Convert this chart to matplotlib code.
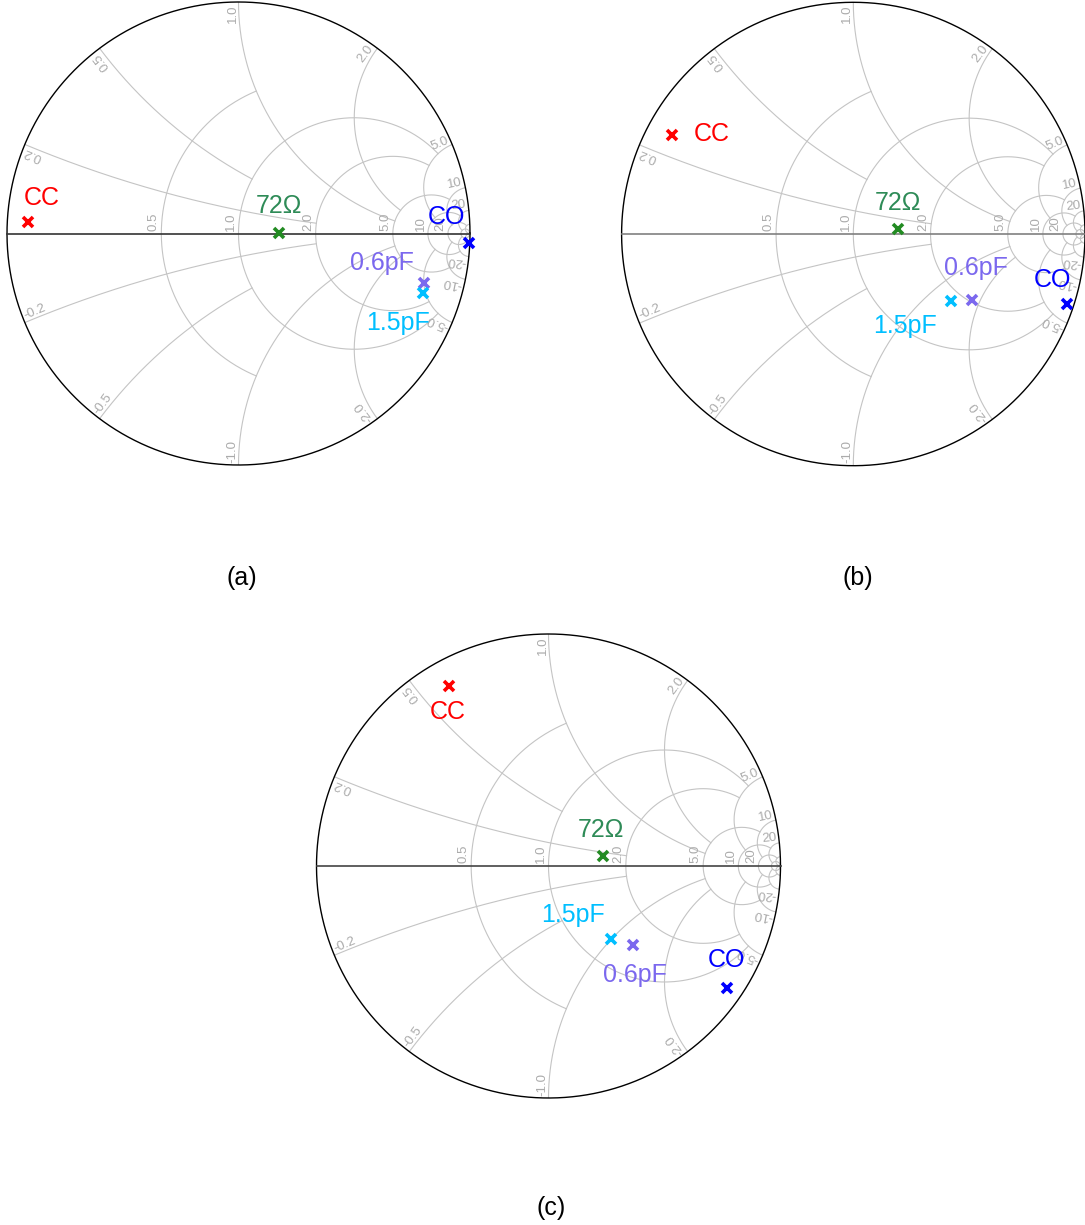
import numpy as np
import matplotlib

matplotlib.use("Agg")
import matplotlib.pyplot as plt

plt.rcParams["font.family"] = ["Liberation Sans", "DejaVu Sans"]

point_names = ["CC", "72Ω", "0.6pF", "1.5pF", "CO"]
marker_colors = ["#ff0000", "#228b22", "#7b68ee", "#00bfff", "#0000ff"]
text_colors = ["#ff0000", "#2e8b57", "#7b68ee", "#00bfff", "#0000ff"]

# reflection coefficient of each point
gamma_a_re = [-0.908, 0.176, 0.803, 0.796, 0.996]
gamma_a_im = [0.051, 0.001, -0.215, -0.258, -0.040]
gamma_b_re = [-0.781, 0.192, 0.512, 0.420, 0.924]
gamma_b_im = [0.427, 0.020, -0.285, -0.289, -0.302]
gamma_c_re = [-0.430, 0.236, 0.363, 0.268, 0.768]
gamma_c_im = [0.777, 0.044, -0.342, -0.316, -0.524]

# smith grid: each circle stops where it meets the given opposite value
res_ticks = [0.5, 1.0, 2.0, 5.0, 10.0, 20.0, 50.0]
res_stop = [1.0, 5.0, 5.0, 10.0, 20.0, 50.0, np.inf]
react_ticks = [0.2, 0.5, 1.0, 2.0, 5.0, 10.0, 20.0, 50.0]
react_stop = [2.0, 1.0, 5.0, 5.0, 10.0, 20.0, 50.0, np.inf]
res_labels = [0.5, 1.0, 2.0, 5.0, 10.0, 20.0]
react_labels = [0.2, 0.5, 1.0, 2.0, 5.0, 10.0, 20.0]

# label offsets (points) relative to each marker
offsets_a = [(9.6, 16.8), (0, 19.9), (-30.7, 14.4), (-17.6, -21.6), (-16.6, 18.7)]
offsets_b = [(28.3, 0.7), (0.5, 19.2), (2.6, 22.8), (-32.9, -18.0), (-10.8, 17.3)]
offsets_c = [(-0.7, -19.2), (-1.7, 18.5), (1.7, -21.4), (-26.9, 17.5), (0, 19.9)]

W, H = 1085, 1225
GRID = "#c4c4c4"
LABEL = "#ababab"
LABEL_SIZE = 9.5


def gamma(z):
    return (z - 1) / (z + 1)


def fmt(v):
    return f"{v:.1f}" if v < 10 else f"{v:.0f}"


def draw_smith(ax, axis_color):
    t = np.linspace(0, 2 * np.pi, 600)
    ax.plot(np.cos(t), np.sin(t), color="black", lw=1.0, clip_on=False, zorder=3)
    ax.plot([-1, 1], [0, 0], color=axis_color, lw=1.2, clip_on=False, zorder=3)

    for r, stop in zip(res_ticks, res_stop):
        a = np.arctan(stop) if np.isfinite(stop) else np.pi / 2 - 1e-4
        x = np.tan(np.linspace(-a, a, 400))
        g = gamma(r + 1j * x)
        ax.plot(g.real, g.imag, color=GRID, lw=0.8, zorder=1)

    for xv, stop in zip(react_ticks, react_stop):
        a = np.arctan(stop) if np.isfinite(stop) else np.pi / 2 - 1e-4
        r = np.tan(np.linspace(0, a, 400))
        for s in (1, -1):
            g = gamma(r + 1j * s * xv)
            ax.plot(g.real, g.imag, color=GRID, lw=0.8, zorder=1)

    for r in res_labels:
        g = gamma(r)
        ax.text(g - 0.006, 0.012, fmt(r), rotation=90, rotation_mode="anchor",
                ha="left", va="bottom", fontsize=LABEL_SIZE, color=LABEL)

    for xv in react_labels:
        for s in (1, -1):
            g = gamma(1j * s * xv) * 0.99
            ang = np.degrees(np.angle(g))
            if s > 0:
                ax.text(g.real, g.imag, fmt(xv), rotation=ang, rotation_mode="anchor",
                        ha="right", va="bottom", fontsize=LABEL_SIZE, color=LABEL)
            else:
                ax.text(g.real, g.imag, "-" + fmt(xv), rotation=ang + 180,
                        rotation_mode="anchor", ha="left", va="bottom",
                        fontsize=LABEL_SIZE, color=LABEL)


def add_chart(cx, cy, R, re, im, offsets, axis_color):
    ax = fig.add_axes([(cx - R) / W, (H - cy - R) / H, 2 * R / W, 2 * R / H])
    ax.set_xlim(-1, 1)
    ax.set_ylim(-1, 1)
    ax.set_aspect("equal")
    ax.axis("off")
    draw_smith(ax, axis_color)
    for i, name in enumerate(point_names):
        ax.plot(re[i], im[i], "x", color=marker_colors[i], ms=7, mew=2.6,
                clip_on=False, zorder=5)
        ax.annotate(name, (re[i], im[i]), xytext=offsets[i], textcoords="offset points",
                    ha="center", va="center", fontsize=18, color=text_colors[i],
                    zorder=6)
    return ax


fig = plt.figure(figsize=(W / 100, H / 100), dpi=100)
add_chart(238.5, 233.5, 231.5, gamma_a_re, gamma_a_im, offsets_a, "#333333")
add_chart(853.3, 234.0, 231.7, gamma_b_re, gamma_b_im, offsets_b, "#808080")
add_chart(548.5, 866.0, 232.0, gamma_c_re, gamma_c_im, offsets_c, "#444444")

fig.text(242 / W, 1 - 578 / H, "(a)", ha="center", va="center", fontsize=18)
fig.text(858 / W, 1 - 578 / H, "(b)", ha="center", va="center", fontsize=18)
fig.text(551 / W, 1 - 1208 / H, "(c)", ha="center", va="center", fontsize=18)

fig.savefig("out.png", dpi=100)
